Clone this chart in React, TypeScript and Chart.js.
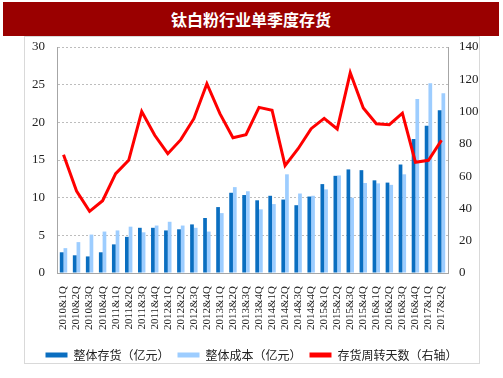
import React, { useEffect, useRef } from "react";
import { Chart, registerables } from "chart.js";

Chart.register(...registerables);

const categories = [
  "2010&1Q", "2010&2Q", "2010&3Q", "2010&4Q",
  "2011&1Q", "2011&2Q", "2011&3Q", "2011&4Q",
  "2012&1Q", "2012&2Q", "2012&3Q", "2012&4Q",
  "2013&1Q", "2013&2Q", "2013&3Q", "2013&4Q",
  "2014&1Q", "2014&2Q", "2014&3Q", "2014&4Q",
  "2015&1Q", "2015&2Q", "2015&3Q", "2015&4Q",
  "2016&1Q", "2016&2Q", "2016&3Q", "2016&4Q",
  "2017&1Q", "2017&2Q",
];

const inventory = [
  2.75, 2.35, 2.2, 2.75, 3.8, 4.8, 6.0, 6.0, 5.65, 5.8,
  6.45, 7.3, 8.75, 10.65, 10.35, 9.65, 10.25, 9.75, 9.0, 10.15,
  11.8, 12.9, 13.75, 13.65, 12.3, 12.0, 14.4, 17.8, 19.55, 21.6,
];

const cost = [
  3.3, 4.1, 5.1, 5.5, 5.65, 6.15, 5.4, 6.3, 6.8, 6.3,
  6.0, 5.5, 7.95, 11.4, 10.85, 8.45, 9.15, 13.1, 10.55, 10.25,
  11.1, 12.95, 10.0, 11.95, 11.9, 11.7, 13.1, 23.1, 25.2, 23.85,
];

const turnoverDays = [
  73.3, 50.8, 38.2, 44.8, 61.5, 69.8, 100, 85.3, 73.9, 82.6,
  95.6, 117.3, 98.7, 83.8, 85.7, 102.6, 100.8, 66.5, 77, 89.4,
  95.8, 89.2, 124, 102.2, 92.5, 91.9, 99, 68.6, 69.8, 82.2,
];

const leftTicks = [0, 5, 10, 15, 20, 25, 30];
const rightTicks = [0, 20, 40, 60, 80, 100, 120, 140];

const seriesNames = ["整体存货（亿元）", "整体成本（亿元）", "存货周转天数（右轴）"];
const title = "钛白粉行业单季度存货";

export default function App() {
  const ref = useRef<HTMLCanvasElement | null>(null);

  useEffect(() => {
    if (!ref.current) return;
    const serif = "'Liberation Serif', 'Times New Roman', serif";
    const chart = new Chart(ref.current, {
      type: "bar",
      data: {
        labels: categories,
        datasets: [
          {
            type: "bar",
            label: seriesNames[0],
            data: inventory,
            backgroundColor: "#0A6EC0",
            borderWidth: 0,
            yAxisID: "y",
            order: 1,
            categoryPercentage: 0.57,
            barPercentage: 1.0,
          },
          {
            type: "bar",
            label: seriesNames[1],
            data: cost,
            backgroundColor: "#9DCDFF",
            borderWidth: 0,
            yAxisID: "y",
            order: 1,
            categoryPercentage: 0.57,
            barPercentage: 1.0,
          },
          {
            type: "line",
            label: seriesNames[2],
            data: turnoverDays,
            borderColor: "#FF0000",
            backgroundColor: "#FF0000",
            borderWidth: 3,
            pointRadius: 0,
            tension: 0,
            yAxisID: "y1",
            order: 0,
          },
        ],
      },
      options: {
        animation: false,
        responsive: false,
        layout: { padding: { left: 0, right: 0, top: 47, bottom: 7 } },
        plugins: {
          tooltip: { enabled: false },
          legend: {
            position: "bottom",
            labels: {
              boxWidth: 22,
              boxHeight: 5,
              padding: 8,
              color: "#222",
              font: { family: "'Noto Sans CJK SC', sans-serif", size: 12 },
              sort: (a: any, b: any) => a.datasetIndex - b.datasetIndex,
              generateLabels: (c: any) => {
                const items = Chart.defaults.plugins.legend.labels.generateLabels(c);
                return items.map((it: any) => ({ ...it, lineWidth: 0 }));
              },
            },
          },
        },
        scales: {
          x: {
            grid: { display: false },
            border: { display: true, color: "#A6A6A6" },
            ticks: {
              autoSkip: false,
              maxRotation: 90,
              minRotation: 90,
              padding: 5,
              color: "#222",
              font: { family: serif, size: 11 },
            },
            afterFit: (s: any) => {
              s.height = 68;
            },
          },
          y: {
            position: "left",
            min: 0,
            max: 30,
            afterBuildTicks: (s: any) => {
              s.ticks = leftTicks.map((v) => ({ value: v }));
            },
            grid: {
              color: "#BDBDBD",
              drawTicks: false,
            },
            border: { display: true, color: "#A6A6A6", dash: [2, 2] },
            ticks: {
              padding: 12,
              color: "#222",
              font: { family: serif, size: 13 },
            },
            afterFit: (s: any) => {
              s.width = 57;
            },
          },
          y1: {
            position: "right",
            min: 0,
            max: 140,
            afterBuildTicks: (s: any) => {
              s.ticks = rightTicks.map((v) => ({ value: v }));
            },
            grid: { drawOnChartArea: false, drawTicks: false },
            border: { display: true, color: "#A6A6A6" },
            ticks: {
              padding: 11,
              color: "#222",
              font: { family: serif, size: 13 },
            },
            afterFit: (s: any) => {
              s.width = 55;
            },
          },
        },
      },
    });
    return () => chart.destroy();
  }, []);

  return (
    <div style={{ position: "absolute", left: 0, top: 0, width: 503, height: 378, background: "#fff" }}>
      <div
        style={{
          position: "absolute",
          left: 24,
          top: 36,
          width: 454,
          height: 326,
          border: "1px solid #D9D9D9",
          background: "#fff",
        }}
      />
      <div
        style={{
          position: "absolute",
          left: 3,
          top: 2,
          width: 496,
          height: 34,
          background: "#9A0000",
          color: "#fff",
          fontFamily: "'Noto Sans CJK SC', sans-serif",
          fontWeight: 700,
          fontSize: 16,
          lineHeight: "34px",
          textAlign: "center",
        }}
      >
        {title}
      </div>
      <canvas ref={ref} width={503} height={378} style={{ position: "absolute", left: 0, top: 0 }} />
    </div>
  );
}
